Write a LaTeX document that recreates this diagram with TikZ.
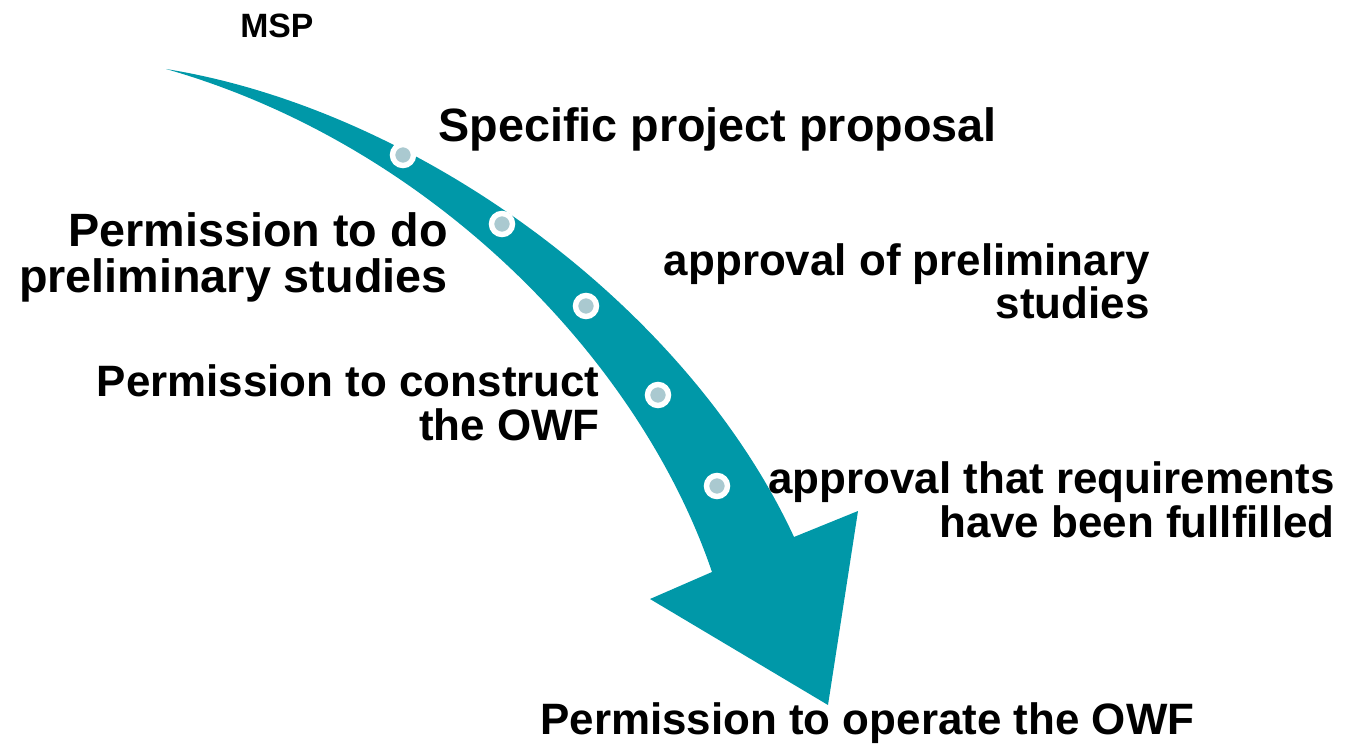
\documentclass[tikz,border=0pt]{standalone}
\usepackage{fontspec}
\setmainfont{Liberation Sans}

\definecolor{owfteal}{RGB}{0,152,168}
\definecolor{dotfill}{RGB}{170,201,208}

\tikzset{
	stepdot/.style={circle, draw=white, line width=3.1pt, fill=dotfill, minimum size=0.42cm, inner sep=0pt},
	biglbl/.style={font=\bfseries\fontsize{26.6}{26.7}\selectfont, inner sep=0pt, align=right},
	lbl/.style={font=\bfseries\fontsize{25}{24.9}\selectfont, inner sep=0pt, align=right},
}

\begin{document}
\begin{tikzpicture}[x=0.02cm, y=-0.02cm]
	\useasboundingbox (0,0) rectangle (1352,746);

	\coordinate (start) at (166,69);
	\coordinate (tip) at (828,705);

	% the curved arrow
	\fill[owfteal] (start) .. controls (420,110) and (688,308) .. (794,537)
		-- (858,511) -- (tip) -- (650,599) -- (712,572)
		.. controls (640,360) and (432,145) .. (start) -- cycle;

	\node[stepdot] (s1) at (403,155) {};
	\node[stepdot] (s2) at (502,224) {};
	\node[stepdot] (s3) at (586,306) {};
	\node[stepdot] (s4) at (658,395) {};
	\node[stepdot] (s5) at (717,486) {};

	% base anchors sit on the last line
	\node[anchor=base west, inner sep=0pt, font=\bfseries\fontsize{19.2}{20}\selectfont] (msp) at (240,38) {MSP};
	\node[biglbl, anchor=base west] (proposal) at (438,142) {Specific project proposal};
	\node[biglbl, anchor=base east] (prelim) at (448,293) {Permission to do\\preliminary studies};
	\node[lbl, anchor=base east] (apprelim) at (1150,319) {approval of preliminary\\studies};
	\node[lbl, anchor=base east] (construct) at (600,440) {Permission to construct\\the OWF};
	\node[lbl, anchor=base east] (fulfil) at (1335,537) {approval that requirements\\have been fullfilled};
	\node[lbl, anchor=base west] (operate) at (540,734) {Permission to operate the OWF};
\end{tikzpicture}
\end{document}
